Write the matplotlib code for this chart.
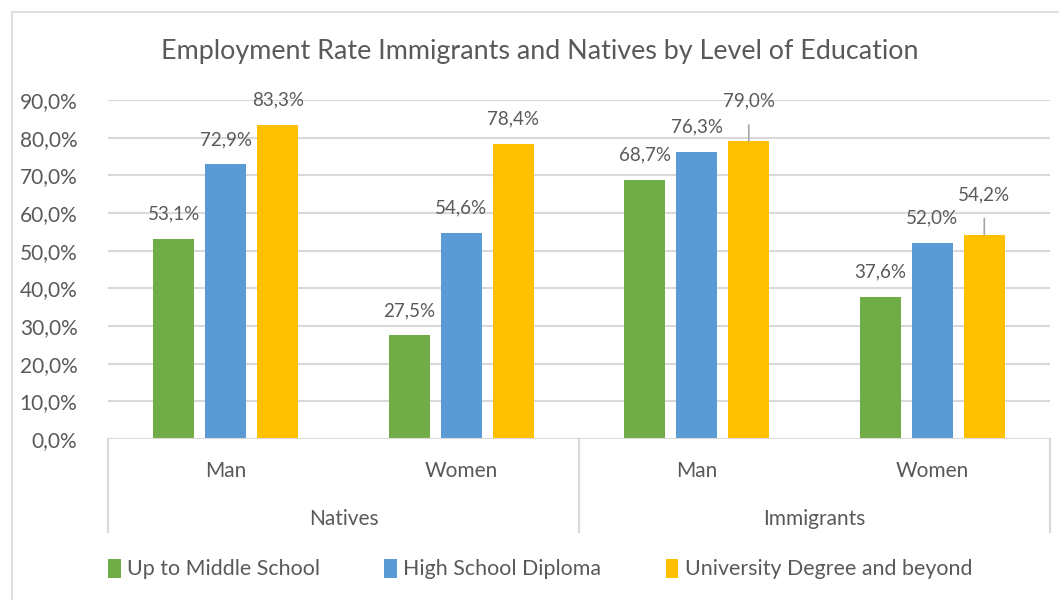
import matplotlib
matplotlib.use("Agg")
import matplotlib.pyplot as plt
import matplotlib.transforms as mtransforms
from matplotlib.patches import Rectangle, Patch

plt.rcParams['font.family'] = ['Lato', 'DejaVu Sans']

groups = ["Natives", "Immigrants"]
sexes = ["Man", "Women", "Man", "Women"]
series = ["Up to Middle School", "High School Diploma", "University Degree and beyond"]
middle_school = [53.1, 27.5, 68.7, 37.6]
high_school = [72.9, 54.6, 76.3, 52.0]
university = [83.3, 78.4, 79.0, 54.2]
yticks = [0, 10, 20, 30, 40, 50, 60, 70, 80, 90]

colors = ["#70AD47", "#5B9BD5", "#FFC000"]
text_color = "#595959"
grid_color = "#D9D9D9"

fig = plt.figure(figsize=(10.59, 6.0), dpi=100)
W, H = 1059, 600

# chart frame
fig.patches.append(Rectangle((12 / W, -0.1), 1.2, 1 - 12 / H + 0.1, transform=fig.transFigure,
                             fill=False, edgecolor=grid_color, linewidth=1.2))

ax = fig.add_axes([108 / W, 1 - 439 / H, (1050 - 108) / W, (439 - 100) / H])
ax.set_xlim(-0.5, 3.5)
ax.set_ylim(0, 90)
for s in ax.spines.values():
    s.set_visible(False)
ax.set_yticks(yticks)
ax.set_yticklabels([f"{v:.1f}%".replace(".", ",") for v in yticks])
ax.tick_params(axis='y', length=0, pad=22, labelsize=15, labelcolor=text_color)
ax.set_xticks([])
ax.yaxis.grid(True, color=grid_color, linewidth=1.5)
ax.set_axisbelow(True)

x = list(range(len(sexes)))
offsets = [-0.221, 0.0, 0.221]
width = 0.174
all_vals = [middle_school, high_school, university]
# labels that sit higher with a leader line
leader = {(2, 2), (2, 3)}
for si, (vals, off, col) in enumerate(zip(all_vals, offsets, colors)):
    xs = [xi + off for xi in x]
    ax.bar(xs, vals, width=width, color=col, label=series[si], zorder=2)
    for gi, (xv, v) in enumerate(zip(xs, vals)):
        lab = f"{v:.1f}%".replace(".", ",")
        if (si, gi) in leader:
            ax.annotate(lab, xy=(xv, v), xytext=(0, 29), textcoords="offset points",
                        ha="center", va="center", fontsize=13.5, color=text_color,
                        arrowprops=dict(arrowstyle="-", color="#A6A6A6", lw=1.2,
                                        shrinkA=9, shrinkB=0))
        else:
            ax.annotate(lab, xy=(xv, v), xytext=(0, 18), textcoords="offset points",
                        ha="center", va="center", fontsize=13.5, color=text_color)

# category axis
ax.axhline(0, color=grid_color, linewidth=1.5, zorder=3)
sep_bottom = -(532 - 439) / (439 - 100)
for xb in [-0.5, 1.5, 3.5]:
    ax.plot([xb, xb], [0, sep_bottom], transform=mtransforms.blended_transform_factory(ax.transData, ax.transAxes),
            color=grid_color, linewidth=1.5, clip_on=False)

blend = mtransforms.blended_transform_factory(ax.transData, fig.transFigure)
for xi, s in zip(x, sexes):
    ax.text(xi, 1 - 471 / H, s, transform=blend, ha="center", va="center", fontsize=15, color=text_color)
for gi, g in enumerate(groups):
    ax.text(2 * gi + 0.5, 1 - 519 / H, g, transform=blend, ha="center", va="center", fontsize=15, color=text_color)

fig.text(540 / W, 1 - 51 / H, "Employment Rate Immigrants and Natives by Level of Education",
         ha="center", va="center", fontsize=19.4, color=text_color)

handles = [Patch(facecolor=c, edgecolor="none") for c in colors]
fig.legend(handles, series, loc="center", bbox_to_anchor=(540 / W, 1 - 569 / H), ncol=3, frameon=False,
           handlelength=0.6, handleheight=1.0, handletextpad=0.3, columnspacing=3.0,
           prop={'size': 15.4}, labelcolor=text_color)

fig.savefig("out.png", dpi=100, facecolor="white")
